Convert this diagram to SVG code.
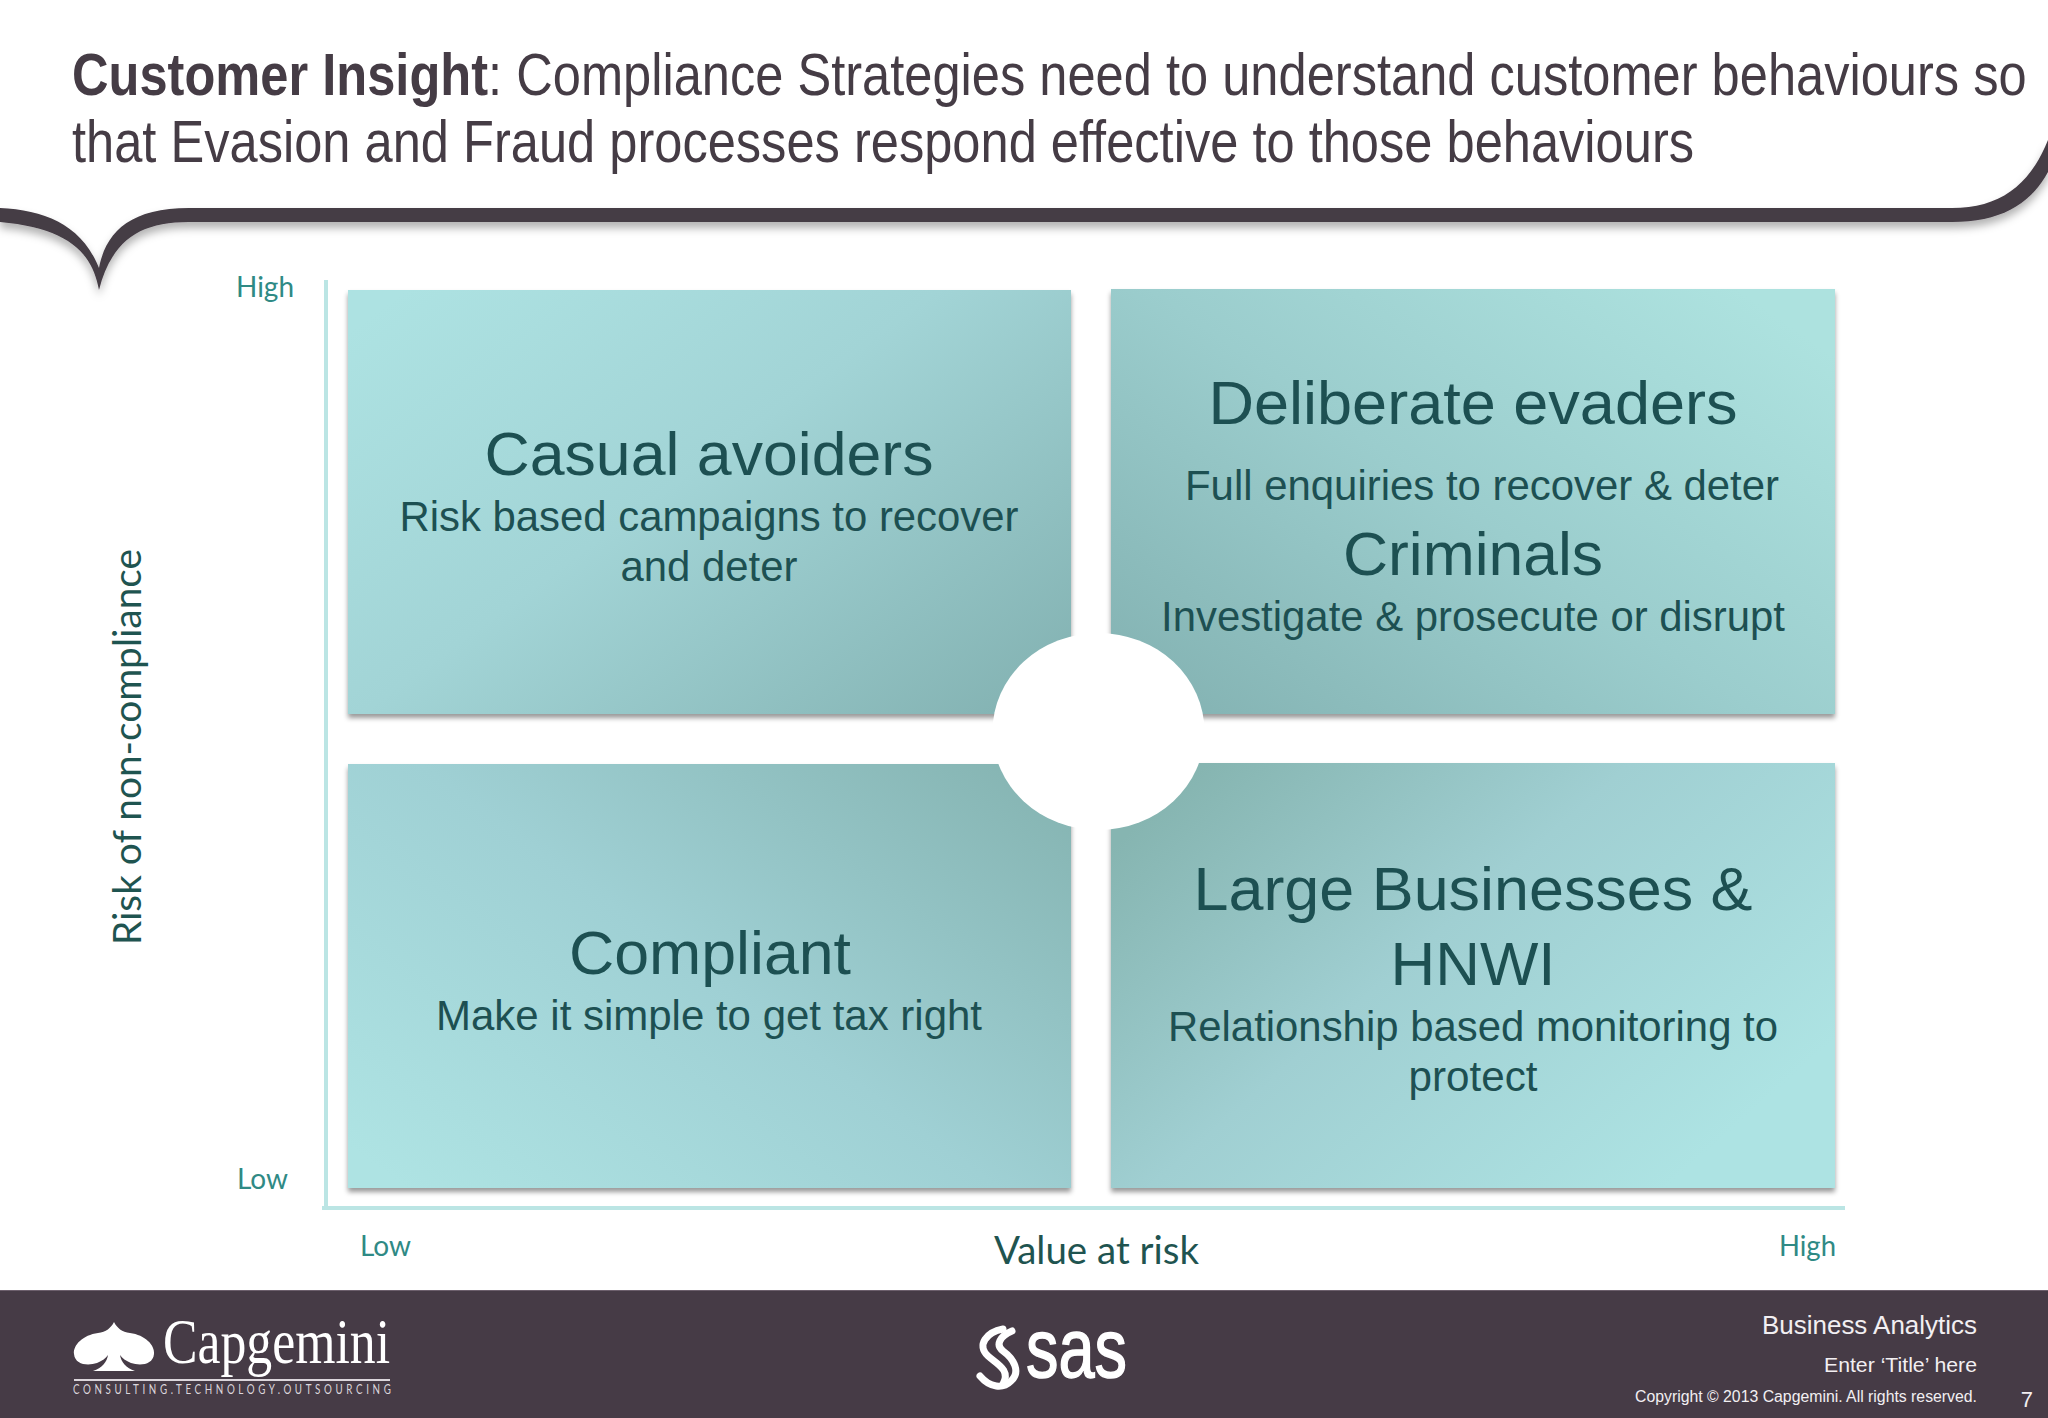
<svg xmlns="http://www.w3.org/2000/svg" width="2048" height="1418" viewBox="0 0 2048 1418">
<style>
text{font-family:"Liberation Sans",Arial,sans-serif}
.title{font-size:60px;fill:#453c45}
.head{font-size:62px;fill:#1d5052;text-anchor:middle}
.sub{font-size:42px;fill:#1d5052;text-anchor:middle}
.tick{font-family:Lato,"Open Sans",sans-serif;font-size:28px;fill:#2f8a85}
.axis{font-family:Lato,"Open Sans",sans-serif;font-size:38px;fill:#1f5450}
.foot{fill:#f2eff2;text-anchor:end}
.axisline{stroke:#bbe5e4;stroke-width:4;fill:none}
</style>
<defs>
<filter id="sh" x="-5%" y="-5%" width="110%" height="112%"><feDropShadow dx="0" dy="4" stdDeviation="2.5" flood-color="#000" flood-opacity="0.4"/></filter>
<filter id="bsh" x="-2%" y="-20%" width="104%" height="160%"><feDropShadow dx="0" dy="6" stdDeviation="4" flood-color="#000" flood-opacity="0.3"/></filter>
<linearGradient id="gtl" x1="0" y1="0.1" x2="1" y2="0.9"><stop offset="0" stop-color="#ade2e2"/><stop offset="0.45" stop-color="#a2d4d6"/><stop offset="1" stop-color="#84b3b3"/></linearGradient>
<linearGradient id="gtr" x1="0" y1="0.9" x2="0.95" y2="0.1"><stop offset="0" stop-color="#84b3b3"/><stop offset="0.5" stop-color="#9bcdcd"/><stop offset="1" stop-color="#ade2df"/></linearGradient>
<linearGradient id="gbl" x1="0" y1="0.9" x2="1" y2="0.1"><stop offset="0" stop-color="#aee3e3"/><stop offset="0.5" stop-color="#9fd0d4"/><stop offset="1" stop-color="#86b5b3"/></linearGradient>
<linearGradient id="gbr" x1="0" y1="0.2" x2="0.9" y2="0.8"><stop offset="0" stop-color="#86b5b1"/><stop offset="0.45" stop-color="#a0cfd2"/><stop offset="1" stop-color="#ade3e3"/></linearGradient>
</defs>
<rect width="2048" height="1418" fill="#fff"/>

<g id="banner">
<path filter="url(#bsh)" fill="#453c45" d="M0,208 C45,210 82,225 99,268 C106,232 130,208 189,208 L1952,208 C2000,208 2030,185 2048,140 L2048,172 C2030,205 2000,222 1952,222 L189,222 C140,222 112,240 99,290 C92,250 65,228 0,222 Z"/>
<text class="title" transform="translate(72,95) scale(0.84,1)" textLength="2327" lengthAdjust="spacingAndGlyphs"><tspan font-weight="bold">Customer Insight</tspan>: Compliance Strategies need to understand customer behaviours so</text>
<text class="title" transform="translate(72,162) scale(0.84,1)" textLength="1931" lengthAdjust="spacingAndGlyphs">that Evasion and Fraud processes respond effective to those behaviours</text>
</g>

<g id="connectors">
<path class="axisline" d="M326,280 V1206"/>
<path class="axisline" d="M322,1208 H1845"/>
</g>

<g id="node-casual">
<rect x="348" y="290" width="723" height="424" fill="url(#gtl)" filter="url(#sh)"/>
<text class="head" x="709" y="475" textLength="449" lengthAdjust="spacingAndGlyphs">Casual avoiders</text>
<text class="sub" x="709" y="531" textLength="619" lengthAdjust="spacingAndGlyphs">Risk based campaigns to recover</text>
<text class="sub" x="709" y="581" textLength="177" lengthAdjust="spacingAndGlyphs">and deter</text>
</g>
<g id="node-evaders">
<rect x="1111" y="289" width="724" height="425" fill="url(#gtr)" filter="url(#sh)"/>
<text class="head" x="1473" y="424" textLength="529" lengthAdjust="spacingAndGlyphs">Deliberate evaders</text>
<text class="sub" x="1482" y="500" textLength="594" lengthAdjust="spacingAndGlyphs">Full enquiries to recover &amp; deter</text>
<text class="head" x="1473" y="575" textLength="260" lengthAdjust="spacingAndGlyphs">Criminals</text>
<text class="sub" x="1473" y="631" textLength="624" lengthAdjust="spacingAndGlyphs">Investigate &amp; prosecute or disrupt</text>
</g>
<g id="node-compliant">
<rect x="348" y="764" width="723" height="424" fill="url(#gbl)" filter="url(#sh)"/>
<text class="head" x="710" y="974" textLength="282" lengthAdjust="spacingAndGlyphs">Compliant</text>
<text class="sub" x="709" y="1030" textLength="546" lengthAdjust="spacingAndGlyphs">Make it simple to get tax right</text>
</g>
<g id="node-large">
<rect x="1111" y="763" width="724" height="425" fill="url(#gbr)" filter="url(#sh)"/>
<text class="head" x="1473" y="910" textLength="559" lengthAdjust="spacingAndGlyphs">Large Businesses &amp;</text>
<text class="head" x="1473" y="985" textLength="165" lengthAdjust="spacingAndGlyphs">HNWI</text>
<text class="sub" x="1473" y="1041" textLength="610" lengthAdjust="spacingAndGlyphs">Relationship based monitoring to</text>
<text class="sub" x="1473" y="1091" textLength="129" lengthAdjust="spacingAndGlyphs">protect</text>
</g>
<g id="node-center"><ellipse cx="1098.5" cy="731.5" rx="106" ry="98.5" fill="#fff"/></g>

<g id="axis-labels">
<text class="tick" x="236" y="297" textLength="58" lengthAdjust="spacingAndGlyphs">High</text>
<text class="tick" x="237" y="1189" textLength="51" lengthAdjust="spacingAndGlyphs">Low</text>
<text class="tick" x="360" y="1256" textLength="51" lengthAdjust="spacingAndGlyphs">Low</text>
<text class="tick" x="1779" y="1256" textLength="57" lengthAdjust="spacingAndGlyphs">High</text>
<text class="axis" x="994" y="1264" textLength="205" lengthAdjust="spacingAndGlyphs">Value at risk</text>
<text class="axis" transform="translate(141,945) rotate(-90)" x="0" y="0" textLength="396" lengthAdjust="spacingAndGlyphs">Risk of non-compliance</text>
</g>

<g id="footer">
<rect x="0" y="1290" width="2048" height="128" fill="#463b46"/>
<rect x="0" y="1290" width="2048" height="1" fill="#6c5f6c"/>
<g id="capgemini-logo" fill="#fff">
<path d="M114,1322 C117,1328 122,1332 130,1333 C145,1335 155,1345 154,1354 C153,1365 140,1366 131,1363 C126,1361 122,1358 120,1355 C121,1362 126,1368 135,1371 L93,1371 C102,1368 107,1362 108,1355 C106,1358 102,1361 97,1363 C88,1366 75,1365 74,1354 C73,1345 83,1335 98,1333 C106,1332 111,1328 114,1322 Z"/>
<text x="163" y="1363" font-size="64" style="font-family:'Liberation Serif',serif" textLength="227" lengthAdjust="spacingAndGlyphs">Capgemini</text>
<rect x="74" y="1379" width="316" height="2" fill="#dcd6dc"/>
<text transform="translate(73,1394) scale(0.7,1)" font-size="14" fill="#dcd6dc" style="font-family:Lato,sans-serif" textLength="454" lengthAdjust="spacing">CONSULTING.TECHNOLOGY.OUTSOURCING</text>
</g>
<g id="sas-logo">
<path fill="none" stroke="#fff" stroke-width="7" stroke-linecap="round" d="M1003,1329 C987,1332 976,1345 988,1356 C997,1364 1011,1370 1003,1384"/>
<path fill="none" stroke="#fff" stroke-width="7" stroke-linecap="round" d="M1012,1331 C1000,1336 995,1345 1003,1351 C1014,1359 1021,1372 1011,1381 C1003,1389 990,1388 980,1376"/>
<text x="1026" y="1377" font-size="84" fill="#fff" stroke="#fff" stroke-width="1.5" textLength="101" lengthAdjust="spacingAndGlyphs">sas</text>
</g>
<text class="foot" x="1977" y="1334" font-size="25" textLength="215" lengthAdjust="spacingAndGlyphs">Business Analytics</text>
<text class="foot" x="1977" y="1372" font-size="21" textLength="153" lengthAdjust="spacingAndGlyphs">Enter ‘Title’ here</text>
<text class="foot" x="1977" y="1402" font-size="16" textLength="342" lengthAdjust="spacingAndGlyphs">Copyright © 2013 Capgemini. All rights reserved.</text>
<text class="foot" x="2033" y="1407" font-size="22">7</text>
</g>
</svg>
